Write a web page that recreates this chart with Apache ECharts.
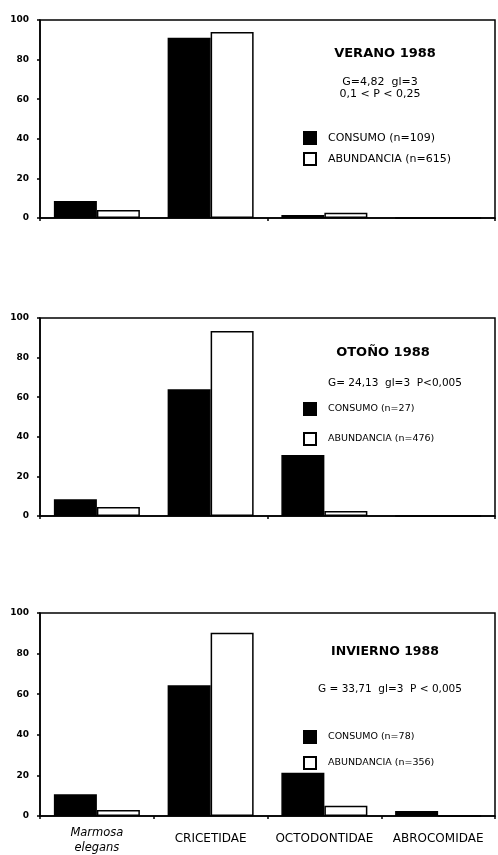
<!DOCTYPE html>
<html><head><meta charset="utf-8">
<script src="https://cdn.jsdelivr.net/npm/echarts@6/dist/echarts.min.js"></script>
<style>html,body{margin:0;padding:0;background:#fff}#c{width:498px;height:855px}</style>
</head><body><div id="c"></div>
<script>
const categories = ['Marmosa elegans', 'CRICETIDAE', 'OCTODONTIDAE', 'ABROCOMIDAE'];
const yTicks = [0, 20, 40, 60, 80, 100];

const veranoConsumo = [8.6, 91, 1.5, 0];
const veranoAbundancia = [4, 94, 2.7, 0];
const otonoConsumo = [8.4, 64, 30.8, 0];
const otonoAbundancia = [4.6, 93.4, 2.5, 0];
const inviernoConsumo = [10.7, 64.4, 21.3, 2.5];
const inviernoAbundancia = [3, 90.3, 5.1, 0];

const panelTitles = ['VERANO 1988', 'OTOÑO 1988', 'INVIERNO 1988'];
const panelStats = [['G=4,82  gl=3', '0,1 < P < 0,25'], ['G= 24,13  gl=3  P<0,005'], ['G = 33,71  gl=3  P < 0,005']];
const consumoNames = ['CONSUMO (n=109)', 'CONSUMO (n=27)', 'CONSUMO (n=78)'];
const abundanciaNames = ['ABUNDANCIA (n=615)', 'ABUNDANCIA (n=476)', 'ABUNDANCIA (n=356)'];

const consumo = [veranoConsumo, otonoConsumo, inviernoConsumo];
const abundancia = [veranoAbundancia, otonoAbundancia, inviernoAbundancia];

const grids = [
  {left: 40, right: 3, top: 20, height: 198},
  {left: 40, right: 3, top: 318, height: 198},
  {left: 40, right: 3, top: 613, height: 203}
];
const font = 'DejaVu Sans';

const chart = echarts.init(document.getElementById('c'), null, {renderer: 'canvas'});

const xAxes = grids.map((g, i) => ({
  type: 'category', gridIndex: i, data: categories,
  axisLine: {lineStyle: {color: '#000', width: 1.5}},
  axisTick: {show: true, length: 3, lineStyle: {color: '#000', width: 1.5}},
  axisLabel: i === 2 ? {
    show: true, interval: 0, margin: 10, color: '#000', fontFamily: font,
    formatter: (v, idx) => idx === 0 ? '{i|Marmosa}\n{i|elegans}' : '{c|' + v + '}',
    rich: {
      i: {fontStyle: 'italic', fontSize: 11.5, lineHeight: 15, fontFamily: font, color: '#000'},
      c: {fontSize: 12, lineHeight: 14, padding: [12, 0, 0, 0], fontFamily: font, color: '#000'}
    }
  } : {show: false}
}));

const yAxes = grids.map((g, i) => ({
  type: 'value', gridIndex: i, min: 0, max: 100, interval: 20,
  axisLine: {show: true, lineStyle: {color: '#000', width: 1.5}},
  axisTick: {show: true, length: 3, lineStyle: {color: '#000', width: 1.5}},
  splitLine: {show: false},
  axisLabel: {color: '#000', fontSize: 9, fontWeight: 'bold', fontFamily: font, margin: 11,
    formatter: v => yTicks.includes(v) ? String(v) : ''}
}));

const series = [];
for (let i = 0; i < 3; i++) {
  series.push({
    name: consumoNames[i], type: 'bar', xAxisIndex: i, yAxisIndex: i, data: consumo[i],
    barWidth: 43, barGap: '0%',
    itemStyle: {color: '#000', borderColor: '#000', borderWidth: 1.5}
  });
  series.push({
    name: abundanciaNames[i], type: 'bar', xAxisIndex: i, yAxisIndex: i, data: abundancia[i],
    barWidth: 43, barGap: '0%',
    itemStyle: {color: '#fff', borderColor: '#000', borderWidth: 1.5}
  });
}

const legendTops = [131, 402, 730];
const legendGaps = [7, 16, 12];
const legendFont = [11, 9.5, 9.5];
const legends = [0, 1, 2].map(i => ({
  orient: 'vertical', left: 303, top: legendTops[i], padding: 0,
  itemWidth: 12, itemHeight: 12, itemGap: legendGaps[i],
  icon: 'rect', selectedMode: false,
  data: [consumoNames[i], abundanciaNames[i]],
  textStyle: {fontSize: legendFont[i], lineHeight: 12, color: '#000', fontFamily: font, padding: [0, 0, 0, 7]}
}));

const titleY = [54, 353, 652];
const titleX = [385, 383, 385];
const titleSize = [13, 13, 12.5];
const statsY = [[82, 94], [383], [689]];
const statsX = [380, 395, 390];
const statsSize = [11, 10.5, 10.5];
const graphics = [];
for (let i = 0; i < 3; i++) {
  graphics.push({type: 'text', x: titleX[i], y: titleY[i],
    style: {text: panelTitles[i], font: 'bold ' + titleSize[i] + 'px ' + font, fill: '#000', textAlign: 'center', textVerticalAlign: 'middle'}});
  panelStats[i].forEach((s, k) => {
    graphics.push({type: 'text', x: statsX[i], y: statsY[i][k],
      style: {text: s, font: statsSize[i] + 'px ' + font, fill: '#000', textAlign: 'center', textVerticalAlign: 'middle'}});
  });
}

chart.setOption({
  animation: false,
  backgroundColor: '#fff',
  grid: grids.map(g => Object.assign({show: true, borderColor: '#000', borderWidth: 1.5, backgroundColor: 'transparent'}, g)),
  xAxis: xAxes,
  yAxis: yAxes,
  legend: legends,
  series: series,
  graphic: graphics
});
</script>
</body></html>
